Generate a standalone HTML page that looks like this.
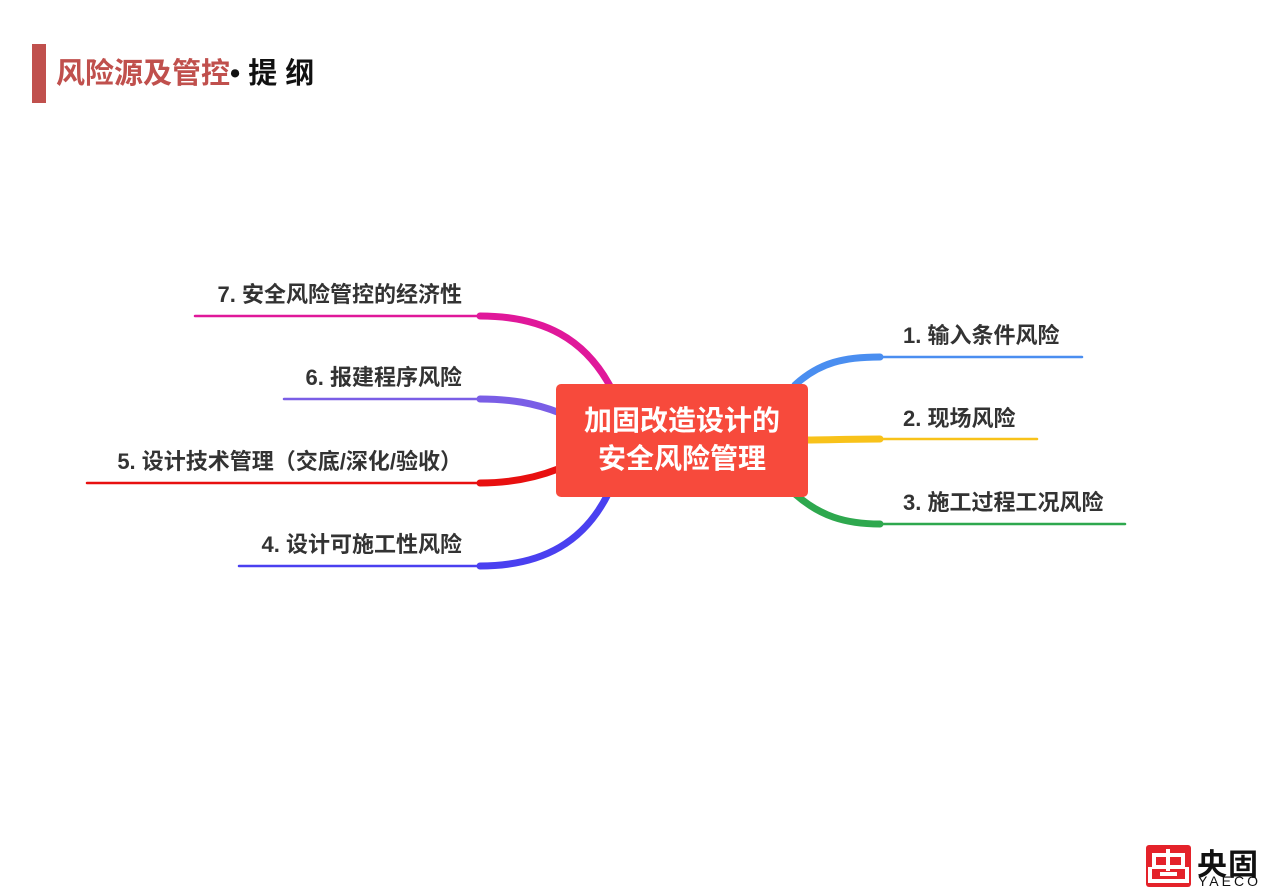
<!DOCTYPE html>
<html><head><meta charset="utf-8"><style>
html,body{margin:0;padding:0;background:#fff;}
body{width:1266px;height:895px;position:relative;overflow:hidden;font-family:"Liberation Sans","Noto Sans CJK SC",sans-serif;}
.bar{position:absolute;left:32px;top:44px;width:14px;height:59px;background:#c0504d;}
.title{position:absolute;left:56px;top:55px;font-size:29px;font-weight:bold;color:#c0504d;white-space:nowrap;line-height:38px;}
.title span{color:#111;}
.lbl{position:absolute;font-size:22px;font-weight:bold;color:#333;white-space:nowrap;line-height:28px;}
.r{text-align:right;}
.center{position:absolute;left:556px;top:384px;width:252px;height:113px;background:#f74a3c;border-radius:5px;color:#fff;font-size:28px;font-weight:bold;text-align:center;line-height:38px;box-sizing:border-box;padding-top:18px;}
.logo{position:absolute;left:1146px;top:845px;width:45px;height:42px;background:#e4222a;border-radius:3px;}
</style></head><body>
<div class="bar"></div>
<div class="title">风险源及管控<span>• 提 纲</span></div>
<svg width="1266" height="895" style="position:absolute;left:0;top:0" fill="none" stroke-linecap="round">
<path d="M795 385 C820 362 845 357 880 357" stroke="#4a8ef0" stroke-width="7"/>
<path d="M880 357 L1082 357" stroke="#4a8ef0" stroke-width="2.5"/>
<path d="M804 440 C830 440 850 439 880 439" stroke="#f8c21a" stroke-width="7"/>
<path d="M880 439 L1037 439" stroke="#f8c21a" stroke-width="2.5"/>
<path d="M795 494 C820 516 845 524 880 524" stroke="#2ea84e" stroke-width="7"/>
<path d="M880 524 L1125 524" stroke="#2ea84e" stroke-width="2.5"/>
<path d="M610 386 C585 340 545 316 480 316" stroke="#e0189a" stroke-width="7"/>
<path d="M480 316 L195 316" stroke="#e0189a" stroke-width="2.5"/>
<path d="M560 413 C535 403 510 399 480 399" stroke="#7a5ee6" stroke-width="7"/>
<path d="M480 399 L284 399" stroke="#7a5ee6" stroke-width="2.5"/>
<path d="M558 469 C535 478 510 483 480 483" stroke="#e81010" stroke-width="7"/>
<path d="M480 483 L87 483" stroke="#e81010" stroke-width="2.5"/>
<path d="M608 494 C585 540 545 566 480 566" stroke="#4a40f0" stroke-width="7"/>
<path d="M480 566 L239 566" stroke="#4a40f0" stroke-width="2.5"/>
</svg>
<div class="center">加固改造设计的<br>安全风险管理</div>
<div class="lbl" style="left:903px;top:322px">1. 输入条件风险</div>
<div class="lbl" style="left:903px;top:405px">2. 现场风险</div>
<div class="lbl" style="left:903px;top:489px">3. 施工过程工况风险</div>
<div class="lbl r" style="right:804px;top:281px">7. 安全风险管控的经济性</div>
<div class="lbl r" style="right:804px;top:364px">6. 报建程序风险</div>
<div class="lbl r" style="right:804px;top:448px">5. 设计技术管理（交底/深化/验收）</div>
<div class="lbl r" style="right:804px;top:531px">4. 设计可施工性风险</div>
<div class="logo"><svg width="45" height="42" viewBox="0 0 45 42" fill="none" stroke="#fff" stroke-width="4"><path d="M8 10H37V22H8Z M22 4V26 M4 22V36H41V22 M14 29H31"/></svg></div>
<div style="position:absolute;left:1197px;top:840px;font-size:30px;font-weight:bold;color:#111;letter-spacing:1px;">央固</div>
<div style="position:absolute;left:1198px;top:873px;font-size:14px;color:#111;letter-spacing:3px;">YAECO</div>
</body></html>
